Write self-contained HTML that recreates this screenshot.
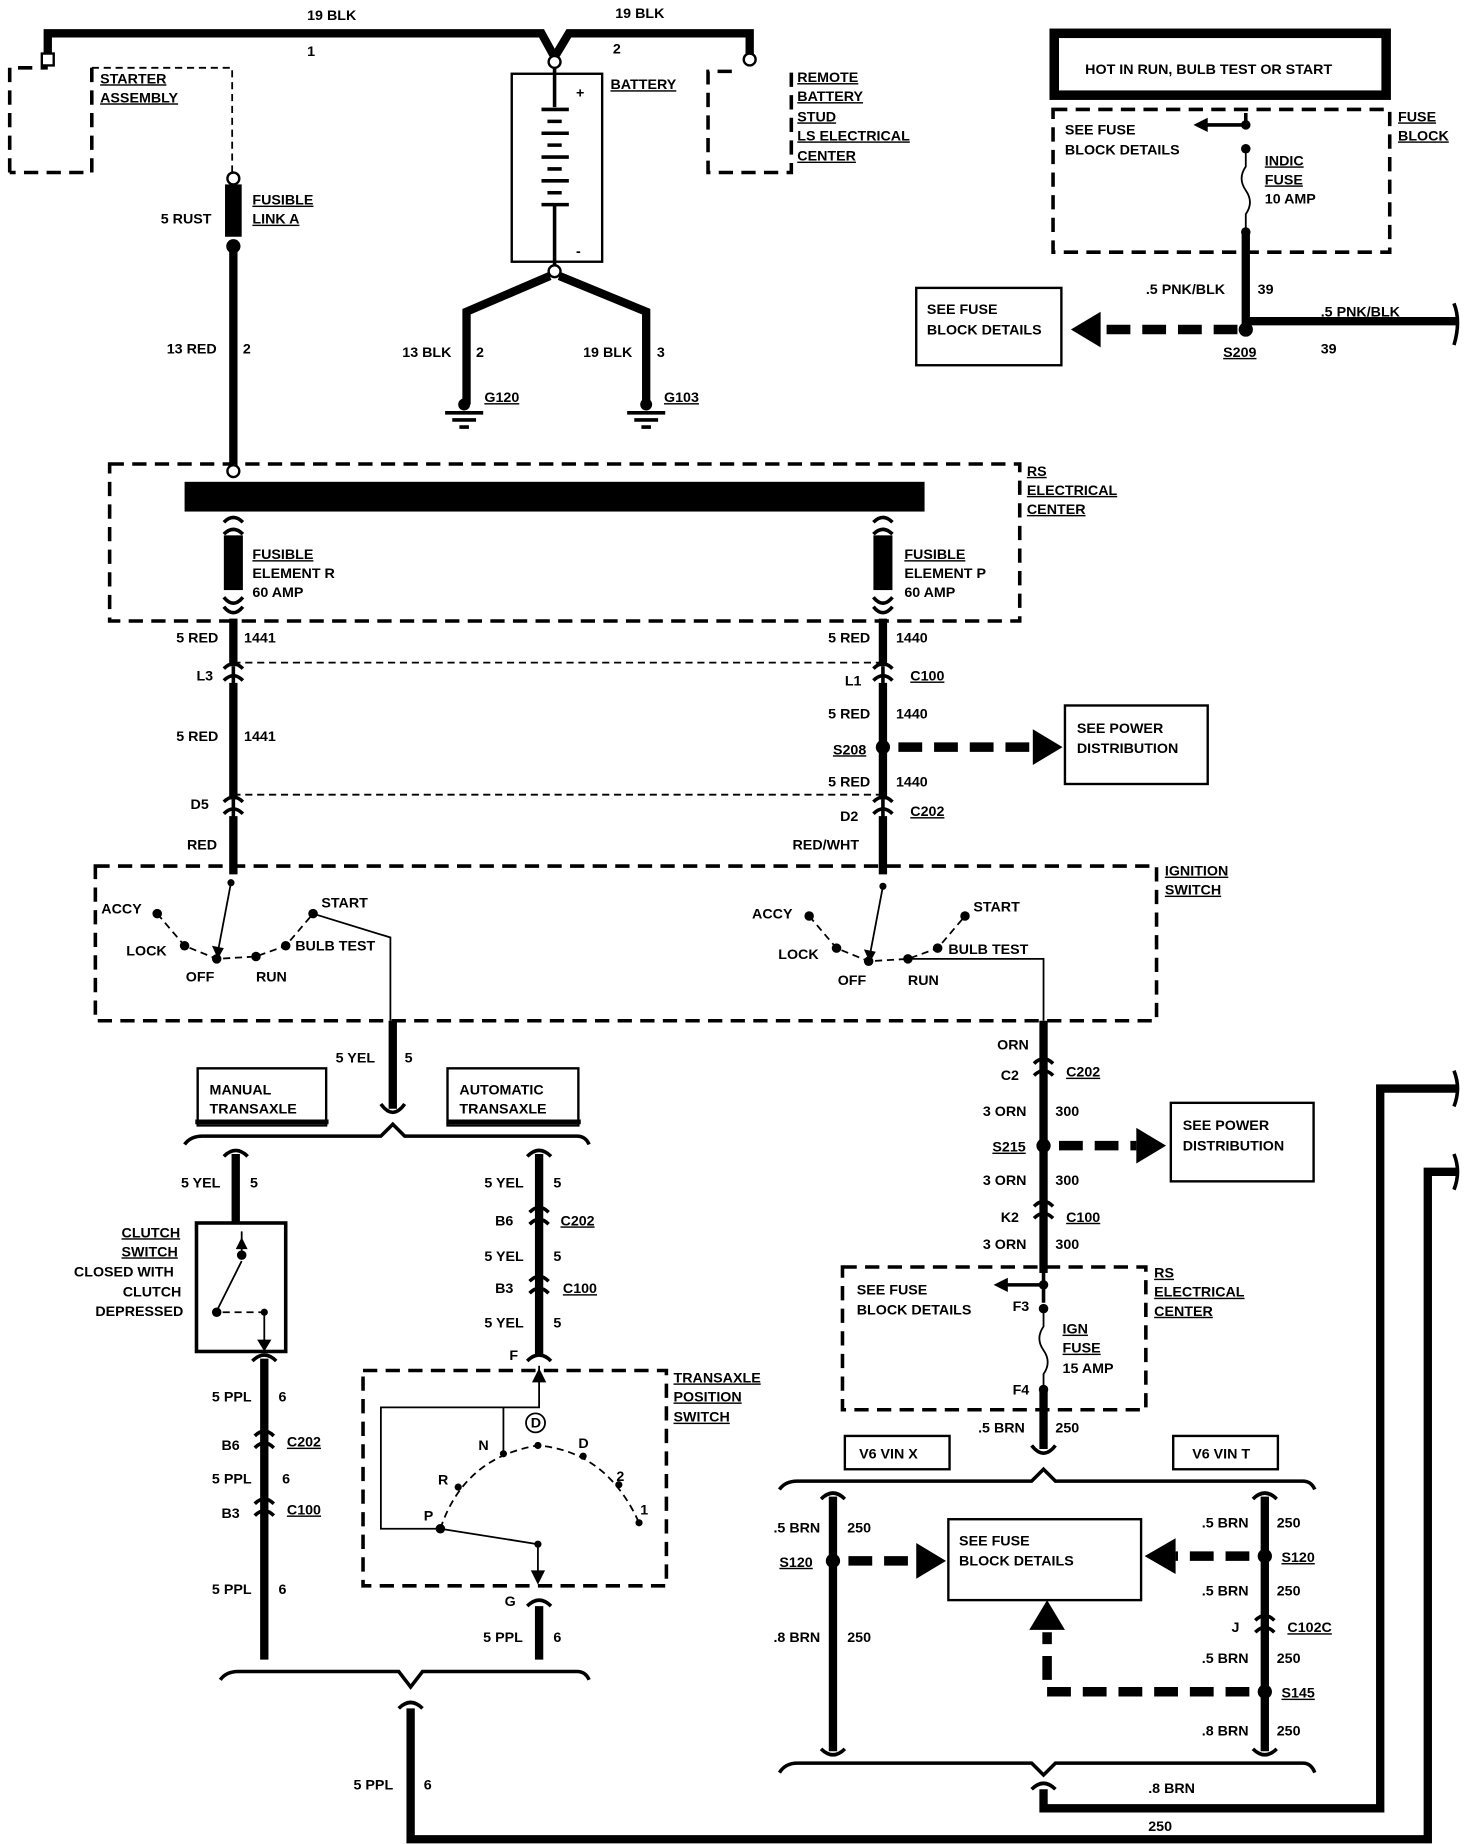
<!DOCTYPE html>
<html><head><meta charset="utf-8"><style>
html,body{margin:0;padding:0;background:#fff}
svg{display:block}
text{font-family:"Liberation Sans",sans-serif;font-weight:bold;font-size:12px;fill:#000}
.t{stroke:#000;stroke-width:7;fill:none}
.m{stroke:#000;stroke-width:3;fill:none}
.n{stroke:#000;stroke-width:1.5;fill:none}
.d{stroke:#000;stroke-width:3;fill:none;stroke-dasharray:12 7}
.dd{stroke:#000;stroke-width:1.5;fill:none;stroke-dasharray:6 4}
.da{stroke:#000;stroke-width:8;fill:none;stroke-dasharray:20 10}
.u{text-decoration:underline}
</style></head><body>
<svg width="1472" height="1844" viewBox="0 0 1237 1550" xmlns="http://www.w3.org/2000/svg">
<defs>
<g id="conn"><path d="M-8,-6 Q0,-14 8,-6 M-8,4 Q0,-4 8,4" class="m"/></g>
</defs>
<path class="t" d="M40,50 V28 H455 L466,48 L478,28 H630 V50"/>
<rect x="35" y="45" width="10" height="10" fill="#fff" stroke="#000" stroke-width="2"/>
<circle cx="630" cy="50" r="5" fill="#fff" stroke="#000" stroke-width="2"/>
<circle cx="466" cy="52" r="5" fill="#fff" stroke="#000" stroke-width="2"/>
<text x="258" y="17">19 BLK</text><text x="517" y="15">19 BLK</text>
<text x="258" y="47">1</text><text x="515" y="45">2</text>
<path class="d" d="M8,145 V57 H40 M77,57 V145 H8"/>
<path class="dd" d="M77,57 H195 V145"/>
<text x="84" y="70" class="u">STARTER</text><text x="84" y="86" class="u">ASSEMBLY</text>
<circle cx="196" cy="150" r="5" fill="#fff" stroke="#000" stroke-width="2"/>
<rect x="189" y="155" width="14" height="44" fill="#000"/>
<circle cx="196" cy="207" r="6" fill="#000"/>
<path class="t" d="M196,210 V392"/>
<circle cx="196" cy="396" r="5" fill="#fff" stroke="#000" stroke-width="2"/>
<text x="135" y="188">5 RUST</text>
<text x="212" y="172" class="u">FUSIBLE</text><text x="212" y="188" class="u">LINK A</text>
<text x="140" y="297">13 RED</text><text x="204" y="297">2</text>
<rect x="430" y="62" width="76" height="158" fill="#fff" stroke="#000" stroke-width="2"/>
<path class="m" d="M466,57 V90 M455,92 H478 M460,102 H472 M455,112 H478 M460,122 H472 M455,132 H478 M460,142 H472 M455,152 H478 M460,162 H472 M455,172 H478 M466,172 V225"/>
<text x="484" y="82" font-size="16">+</text><text x="484" y="215" font-size="16">-</text>
<text x="513" y="75" class="u">BATTERY</text>
<circle cx="466" cy="228" r="5" fill="#fff" stroke="#000" stroke-width="2"/>
<path class="t" d="M462,232 L392,262 V340 M470,232 L543,262 V340"/>
<circle cx="390" cy="340" r="5" fill="#000"/><circle cx="543" cy="340" r="5" fill="#000"/>
<path class="m" d="M374,347 H406 M380,353 H400 M386,359 H394 M527,347 H559 M533,353 H553 M539,359 H547"/>
<text x="338" y="300">13 BLK</text><text x="400" y="300">2</text>
<text x="490" y="300">19 BLK</text><text x="552" y="300">3</text>
<text x="407" y="338" class="u">G120</text><text x="558" y="338" class="u">G103</text>
<path class="d" d="M615,60 H595 V145 H665 V60"/>
<text x="670" y="69" class="u">REMOTE</text><text x="670" y="85" class="u">BATTERY</text><text x="670" y="102" class="u">STUD</text><text x="670" y="118" class="u">LS ELECTRICAL</text><text x="670" y="135" class="u">CENTER</text>
<rect x="886" y="28" width="279" height="52" fill="none" stroke="#000" stroke-width="8"/>
<text x="912" y="62">HOT IN RUN, BULB TEST OR START</text>
<path class="d" d="M885,92 H1168 V212 H885 Z"/>
<text x="1175" y="102" class="u">FUSE</text><text x="1175" y="118" class="u">BLOCK</text>
<path class="m" d="M1047,95 V105 M1047,105 H1012"/><path d="M1003,105 L1015,99 V111 Z"/>
<circle cx="1047" cy="105" r="4"/><circle cx="1047" cy="125" r="4"/>
<path class="n" d="M1047,125 V140 Q1040,150 1047,160 Q1054,170 1047,180 V195"/>
<circle cx="1047" cy="195" r="4"/>
<path class="t" d="M1047,195 V277"/>
<text x="895" y="113">SEE FUSE</text><text x="895" y="130">BLOCK DETAILS</text>
<text x="1063" y="139" class="u">INDIC</text><text x="1063" y="155" class="u">FUSE</text><text x="1063" y="171">10 AMP</text>
<text x="963" y="247">.5 PNK/BLK</text><text x="1057" y="247">39</text>
<path class="t" d="M1047,270 H1225"/><path class="m" d="M1222,255 Q1228,270 1222,290"/>
<text x="1110" y="266">.5 PNK/BLK</text><text x="1110" y="297">39</text>
<circle cx="1047" cy="277" r="6"/>
<path class="da" d="M1040,277 H925"/><path d="M900,277 L925,262 V292 Z"/>
<text x="1028" y="300" class="u">S209</text>
<rect x="770" y="242" width="122" height="65" fill="#fff" stroke="#000" stroke-width="2"/>
<text x="779" y="264">SEE FUSE</text><text x="779" y="281">BLOCK DETAILS</text>
<path class="d" d="M92,390 H857 V522 H92 Z"/>
<rect x="155" y="405" width="622" height="25" fill="#000"/>
<text x="863" y="400" class="u">RS</text><text x="863" y="416" class="u">ELECTRICAL</text><text x="863" y="432" class="u">CENTER</text>
<g>
<use href="#conn" x="196" y="445"/><rect x="188" y="450" width="16" height="46" fill="#000"/>
<path class="m" d="M188,502 Q196,512 204,502 M188,510 Q196,520 204,510"/>
<use href="#conn" x="742" y="445"/><rect x="734" y="450" width="16" height="46" fill="#000"/>
<path class="m" d="M734,502 Q742,512 750,502 M734,510 Q742,520 750,510"/>
</g>
<text x="212" y="470" class="u">FUSIBLE</text><text x="212" y="486">ELEMENT R</text><text x="212" y="502">60 AMP</text>
<text x="760" y="470" class="u">FUSIBLE</text><text x="760" y="486">ELEMENT P</text><text x="760" y="502">60 AMP</text>
<path class="t" d="M196,520 V735 M742,520 V735"/>
<path class="dd" d="M196,557 H742 M196,668 H742"/>
<rect x="186" y="560" width="20" height="14" fill="#fff"/><rect x="732" y="560" width="20" height="14" fill="#fff"/>
<rect x="186" y="672" width="20" height="14" fill="#fff"/><rect x="732" y="672" width="20" height="14" fill="#fff"/>
<use href="#conn" x="196" y="568"/><use href="#conn" x="742" y="568"/><use href="#conn" x="196" y="680"/><use href="#conn" x="742" y="680"/>
<path class="m" d="M196,560 V576 M742,560 V576 M196,672 V688 M742,672 V688"/>
<text x="148" y="540">5 RED</text><text x="205" y="540">1441</text>
<text x="165" y="572">L3</text>
<text x="148" y="623">5 RED</text><text x="205" y="623">1441</text>
<text x="160" y="680">D5</text><text x="157" y="714">RED</text>
<text x="696" y="540">5 RED</text><text x="753" y="540">1440</text>
<text x="710" y="576">L1</text><text x="765" y="572" class="u">C100</text>
<text x="696" y="604">5 RED</text><text x="753" y="604">1440</text>
<circle cx="742" cy="628" r="6"/><text x="700" y="634" class="u">S208</text>
<path class="da" d="M755,628 H868"/><path d="M893,628 L868,613 V643 Z"/>
<rect x="895" y="593" width="120" height="66" fill="#fff" stroke="#000" stroke-width="2"/>
<text x="905" y="616">SEE POWER</text><text x="905" y="633">DISTRIBUTION</text>
<text x="696" y="661">5 RED</text><text x="753" y="661">1440</text>
<text x="706" y="690">D2</text><text x="765" y="686" class="u">C202</text>
<text x="666" y="714">RED/WHT</text>
<path class="d" d="M80,728 H972 V858 H80 Z"/>
<text x="979" y="736" class="u">IGNITION</text><text x="979" y="752" class="u">SWITCH</text>
<circle cx="194" cy="742" r="3"/><path class="n" d="M194,742 L183,800"/><path d="M183,806 L178,795 L188,797 Z"/>
<circle cx="132" cy="768" r="4"/><circle cx="155" cy="795" r="4"/><circle cx="182" cy="806" r="4"/><circle cx="215" cy="804" r="4"/><circle cx="240" cy="795" r="4"/><circle cx="263" cy="768" r="4"/>
<path class="dd" d="M132,768 L155,795 L182,806 L215,804 L240,795 L263,768"/>
<path class="n" d="M263,768 L328,788 V858"/>
<text x="85" y="768">ACCY</text><text x="106" y="803">LOCK</text><text x="156" y="825">OFF</text><text x="215" y="825">RUN</text><text x="248" y="799">BULB TEST</text><text x="270" y="763">START</text>
<circle cx="742" cy="745" r="3"/><path class="n" d="M742,745 L731,803"/><path d="M731,809 L726,798 L736,800 Z"/>
<circle cx="680" cy="770" r="4"/><circle cx="703" cy="797" r="4"/><circle cx="730" cy="808" r="4"/><circle cx="763" cy="806" r="4"/><circle cx="788" cy="797" r="4"/><circle cx="811" cy="770" r="4"/>
<path class="dd" d="M680,770 L703,797 L730,808 L763,806 L788,797 L811,770"/>
<path class="n" d="M763,806 L877,806 V858"/>
<text x="632" y="772">ACCY</text><text x="654" y="806">LOCK</text><text x="704" y="828">OFF</text><text x="763" y="828">RUN</text><text x="797" y="802">BULB TEST</text><text x="818" y="766">START</text>
<path class="t" d="M330,858 V932"/><path class="m" d="M320,928 Q330,942 340,928"/>
<text x="282" y="893">5 YEL</text><text x="340" y="893">5</text>
<rect x="166" y="898" width="108" height="48" fill="#fff" stroke="#000" stroke-width="2"/>
<rect x="376" y="898" width="110" height="48" fill="#fff" stroke="#000" stroke-width="2"/>
<path d="M164,943 H276 M376,943 H488" stroke="#000" stroke-width="4"/>
<text x="176" y="920">MANUAL</text><text x="176" y="936">TRANSAXLE</text>
<text x="386" y="920">AUTOMATIC</text><text x="386" y="936">TRANSAXLE</text>
<path class="m" d="M155,962 Q160,955 170,955 H320 L330,945 L340,955 H485 Q492,955 495,962"/>
<path class="m" d="M188,972 Q198,962 208,972 M443,972 Q453,962 463,972"/>
<path class="t" d="M198,970 V1028 M453,970 V1140"/>
<text x="152" y="998">5 YEL</text><text x="210" y="998">5</text>
<rect x="165" y="1028" width="75" height="108" fill="#fff" stroke="#000" stroke-width="3"/>
<circle cx="203" cy="1055" r="4"/><path class="n" d="M203,1055 V1035 M203,1060 L183,1100"/><path d="M203,1040 L198,1050 H208 Z"/>
<circle cx="182" cy="1103" r="4"/><path class="dd" d="M187,1103 H222"/><circle cx="222" cy="1103" r="3"/><path class="n" d="M222,1103 V1136"/><path d="M222,1136 L216,1126 H228 Z"/>
<text x="102" y="1040" class="u">CLUTCH</text><text x="102" y="1056" class="u">SWITCH</text><text x="62" y="1073">CLOSED WITH</text><text x="103" y="1090">CLUTCH</text><text x="80" y="1106">DEPRESSED</text>
<path class="t" d="M222,1142 V1395"/>
<path class="m" d="M212,1144 Q222,1134 232,1144"/>
<use href="#conn" x="222" y="1213"/><use href="#conn" x="222" y="1270"/>
<text x="178" y="1178">5 PPL</text><text x="234" y="1178">6</text>
<text x="186" y="1219">B6</text><text x="241" y="1216" class="u">C202</text>
<text x="178" y="1247">5 PPL</text><text x="237" y="1247">6</text>
<text x="186" y="1276">B3</text><text x="241" y="1273" class="u">C100</text>
<text x="178" y="1340">5 PPL</text><text x="234" y="1340">6</text>
<use href="#conn" x="453" y="1025"/><use href="#conn" x="453" y="1083"/>
<path class="m" d="M443,1144 Q453,1134 463,1144"/>
<text x="407" y="998">5 YEL</text><text x="465" y="998">5</text>
<text x="416" y="1030">B6</text><text x="471" y="1030" class="u">C202</text>
<text x="407" y="1060">5 YEL</text><text x="465" y="1060">5</text>
<text x="416" y="1087">B3</text><text x="473" y="1087" class="u">C100</text>
<text x="407" y="1116">5 YEL</text><text x="465" y="1116">5</text>
<text x="428" y="1143">F</text>
<path class="d" d="M305,1152 H560 V1333 H305 Z"/>
<text x="566" y="1162" class="u">TRANSAXLE</text><text x="566" y="1178" class="u">POSITION</text><text x="566" y="1195" class="u">SWITCH</text>
<path class="n" d="M453,1148 V1183 H320 V1285 H368"/><path d="M453,1150 L447,1162 H459 Z"/>
<path class="n" d="M423,1183 V1222"/>
<circle cx="450" cy="1196" r="8" fill="#fff" stroke="#000" stroke-width="1.5"/><text x="446" y="1200" font-size="10">D</text>
<path class="dd" d="M370,1285 Q390,1225 452,1215 Q510,1220 537,1280"/>
<circle cx="370" cy="1285" r="4"/><circle cx="385" cy="1250" r="3"/><circle cx="423" cy="1222" r="3"/><circle cx="452" cy="1215" r="3"/><circle cx="490" cy="1224" r="3"/><circle cx="520" cy="1248" r="3"/><circle cx="537" cy="1280" r="3"/>
<path class="n" d="M370,1285 L452,1298 V1330"/><circle cx="452" cy="1298" r="3"/><path d="M452,1332 L446,1320 H458 Z"/>
<text x="402" y="1219">N</text><text x="486" y="1217">D</text><text x="368" y="1248">R</text><text x="518" y="1245">2</text><text x="356" y="1278">P</text><text x="538" y="1273">1</text>
<path class="m" d="M443,1350 Q453,1340 463,1350"/>
<path class="t" d="M453,1350 V1395"/>
<text x="424" y="1350">G</text><text x="406" y="1380">5 PPL</text><text x="465" y="1380">6</text>
<path class="m" d="M185,1412 Q190,1405 200,1405 H335 L345,1418 L355,1405 H485 Q492,1405 495,1412"/>
<path class="m" d="M335,1436 Q345,1426 355,1436"/>
<path class="t" d="M345,1436 V1546 H1200 V985 H1225"/>
<path class="m" d="M1222,970 Q1228,985 1222,1000"/>
<text x="297" y="1504">5 PPL</text><text x="356" y="1504">6</text>
<path class="t" d="M877,858 V1218"/>
<use href="#conn" x="877" y="900"/><use href="#conn" x="877" y="1020"/>
<text x="838" y="882">ORN</text>
<text x="841" y="908">C2</text><text x="896" y="905" class="u">C202</text>
<text x="826" y="938">3 ORN</text><text x="887" y="938">300</text>
<circle cx="877" cy="963" r="6"/><text x="834" y="968" class="u">S215</text>
<path class="da" d="M890,963 H955"/><path d="M980,963 L955,948 V978 Z"/>
<rect x="984" y="927" width="120" height="66" fill="#fff" stroke="#000" stroke-width="2"/>
<text x="994" y="950">SEE POWER</text><text x="994" y="967">DISTRIBUTION</text>
<text x="826" y="996">3 ORN</text><text x="887" y="996">300</text>
<text x="841" y="1027">K2</text><text x="896" y="1027" class="u">C100</text>
<text x="826" y="1050">3 ORN</text><text x="887" y="1050">300</text>
<path class="d" d="M708,1065 H963 V1185 H708 Z"/>
<text x="970" y="1074" class="u">RS</text><text x="970" y="1090" class="u">ELECTRICAL</text><text x="970" y="1106" class="u">CENTER</text>
<rect x="868" y="1070" width="18" height="100" fill="#fff"/>
<path class="m" d="M877,1065 V1095 M877,1080 H845"/><path d="M835,1080 L847,1074 V1086 Z"/>
<circle cx="877" cy="1080" r="4"/><circle cx="877" cy="1100" r="4"/>
<path class="n" d="M877,1100 V1115 Q870,1125 877,1135 Q884,1145 877,1155 V1168"/>
<circle cx="877" cy="1168" r="4"/>
<text x="720" y="1088">SEE FUSE</text><text x="720" y="1105">BLOCK DETAILS</text>
<text x="851" y="1102">F3</text><text x="851" y="1172">F4</text>
<text x="893" y="1121" class="u">IGN</text><text x="893" y="1137" class="u">FUSE</text><text x="893" y="1154">15 AMP</text>
<path class="m" d="M867,1215 Q877,1228 887,1215"/>
<text x="822" y="1204">.5 BRN</text><text x="887" y="1204">250</text>
<rect x="710" y="1207" width="88" height="28" fill="#fff" stroke="#000" stroke-width="2"/>
<rect x="986" y="1207" width="88" height="28" fill="#fff" stroke="#000" stroke-width="2"/>
<text x="722" y="1226">V6 VIN X</text><text x="1002" y="1226">V6 VIN T</text>
<path class="m" d="M655,1252 Q660,1245 670,1245 H867 L877,1235 L887,1245 H1095 Q1102,1245 1105,1252"/>
<path class="m" d="M690,1260 Q700,1250 710,1260 M1053,1260 Q1063,1250 1073,1260"/>
<path class="t" d="M700,1258 V1472 M1063,1258 V1472"/>
<path class="m" d="M690,1470 Q700,1480 710,1470 M1053,1470 Q1063,1480 1073,1470"/>
<text x="650" y="1288">.5 BRN</text><text x="712" y="1288">250</text>
<circle cx="700" cy="1312" r="6"/><text x="655" y="1317" class="u">S120</text>
<path class="da" d="M713,1312 H770"/><path d="M795,1312 L770,1297 V1327 Z"/>
<rect x="797" y="1277" width="162" height="68" fill="#fff" stroke="#000" stroke-width="2"/>
<text x="806" y="1299">SEE FUSE</text><text x="806" y="1316">BLOCK DETAILS</text>
<text x="650" y="1380">.8 BRN</text><text x="712" y="1380">250</text>
<text x="1010" y="1284">.5 BRN</text><text x="1073" y="1284">250</text>
<circle cx="1063" cy="1308" r="6"/><text x="1077" y="1313" class="u">S120</text>
<path class="da" d="M1050,1308 H988"/><path d="M962,1308 L988,1293 V1323 Z"/>
<text x="1010" y="1341">.5 BRN</text><text x="1073" y="1341">250</text>
<use href="#conn" x="1063" y="1368"/>
<text x="1035" y="1372">J</text><text x="1082" y="1372" class="u">C102C</text>
<text x="1010" y="1398">.5 BRN</text><text x="1073" y="1398">250</text>
<circle cx="1063" cy="1422" r="6"/><text x="1077" y="1427" class="u">S145</text>
<path class="da" d="M1050,1422 H880 V1372"/><path d="M880,1345 L865,1370 H895 Z"/>
<text x="1010" y="1459">.8 BRN</text><text x="1073" y="1459">250</text>
<path class="m" d="M655,1490 Q660,1482 670,1482 H867 L877,1492 L887,1482 H1095 Q1102,1482 1105,1490"/>
<path class="m" d="M867,1504 Q877,1494 887,1504"/>
<path class="t" d="M877,1504 V1520 H1160 V915 H1225"/>
<path class="m" d="M1222,900 Q1228,915 1222,930"/>
<text x="965" y="1507">.8 BRN</text><text x="965" y="1539">250</text>
</svg>
</body></html>
